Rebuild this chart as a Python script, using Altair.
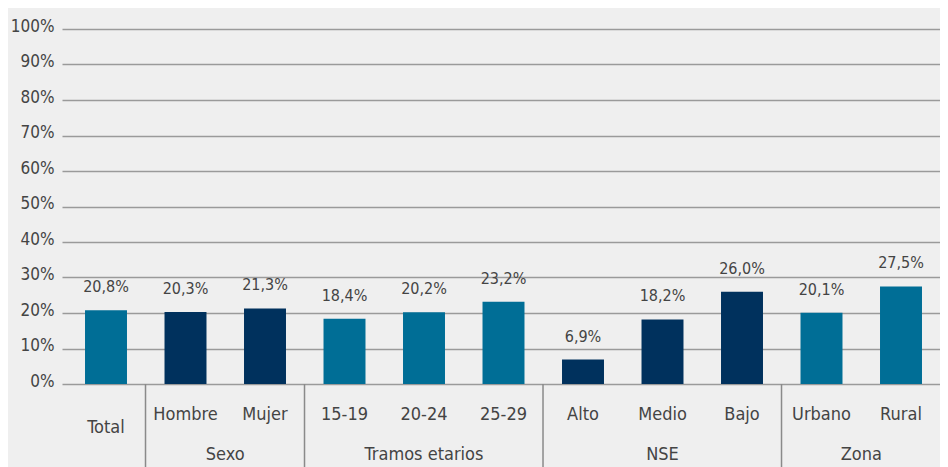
import altair as alt
import pandas as pd

categories = ["Total", "Hombre", "Mujer", "15-19", "20-24", "25-29",
              "Alto", "Medio", "Bajo", "Urbano", "Rural"]
values = [20.8, 20.3, 21.3, 18.4, 20.2, 23.2, 6.9, 18.2, 26.0, 20.1, 27.5]
series = ["claro", "oscuro", "oscuro", "claro", "claro", "claro",
          "oscuro", "oscuro", "oscuro", "claro", "claro"]
y_ticks = [0, 10, 20, 30, 40, 50, 60, 70, 80, 90, 100]

group_names = ["Sexo", "Tramos etarios", "NSE", "Zona"]
group_anchor = ["Hombre", "20-24", "Medio", "Urbano"]
group_pairs = [True, False, False, True]
separators_before = ["Hombre", "15-19", "Alto", "Urbano"]

FONT = "DejaVu Sans Condensed, DejaVu Sans, sans-serif"
TXT = "#444444"

df = pd.DataFrame({
    "cat": categories,
    "value": values,
    "serie": series,
    "label": [f"{v:.1f}".replace(".", ",") + "%" for v in values],
})
df_groups = pd.DataFrame({"cat": group_anchor, "name": group_names, "pair": group_pairs})
df_sep = pd.DataFrame({"cat": separators_before})

xscale = alt.Scale(domain=categories, paddingInner=0.472, paddingOuter=0.258, align=0.561)
X = alt.X("cat:N", scale=xscale, axis=None, title=None)

Y = alt.Y("value:Q", scale=alt.Scale(domain=[0, 100], nice=False), title=None,
          axis=alt.Axis(values=y_ticks, tickCount=11,
                        labelExpr="datum.value + '%'",
                        grid=True, gridColor="#9a9a9a", gridWidth=1.5,
                        domain=False, ticks=False, labelPadding=8,
                        labelOverlap=False,
                        labelFont=FONT, labelFontSize=17, labelColor=TXT,
                        labelOffset=-3))

base = alt.Chart(df)

bars = base.mark_bar().encode(
    x=X,
    y=Y,
    color=alt.Color("serie:N", legend=None,
                    scale=alt.Scale(domain=["claro", "oscuro"],
                                    range=["#006e96", "#00315d"])),
)

bar_labels = base.mark_text(baseline="alphabetic", dy=-18, font=FONT,
                            fontSize=16, color=TXT).encode(
    x=X, y=Y, text="label:N")

cat_labels = alt.Chart(df[df["cat"] != "Total"]).mark_text(
    baseline="middle", font=FONT, fontSize=18, color=TXT).encode(
    x=X, y=alt.value(386), text="cat:N")

total_label = alt.Chart(df[df["cat"] == "Total"]).mark_text(
    baseline="middle", font=FONT, fontSize=18, color=TXT).encode(
    x=X, y=alt.value(399), text="cat:N")

grp_pair = alt.Chart(df_groups[df_groups["pair"]]).mark_text(
    baseline="middle", font=FONT, fontSize=18, color=TXT, dx=39.75).encode(
    x=X, y=alt.value(426), text="name:N")

grp_single = alt.Chart(df_groups[~df_groups["pair"]]).mark_text(
    baseline="middle", font=FONT, fontSize=18, color=TXT).encode(
    x=X, y=alt.value(426), text="name:N")

seps = alt.Chart(df_sep).mark_rule(color="#8a8a8a", strokeWidth=1.5, xOffset=-19).encode(
    x=alt.X("cat:N", scale=xscale, axis=None, bandPosition=0),
    y=alt.value(355), y2=alt.value(445))

chart = alt.layer(bars, bar_labels, cat_labels, total_label, grp_pair, grp_single, seps).properties(
    width=878, height=355,
    autosize=alt.AutoSizeParams(type="none"),
    padding={"left": 54, "top": 21, "right": 0, "bottom": 83},
    background="#efefef",
).configure_view(stroke=None)

chart.save("out.html", embed_options={"renderer": "svg", "actions": False})
